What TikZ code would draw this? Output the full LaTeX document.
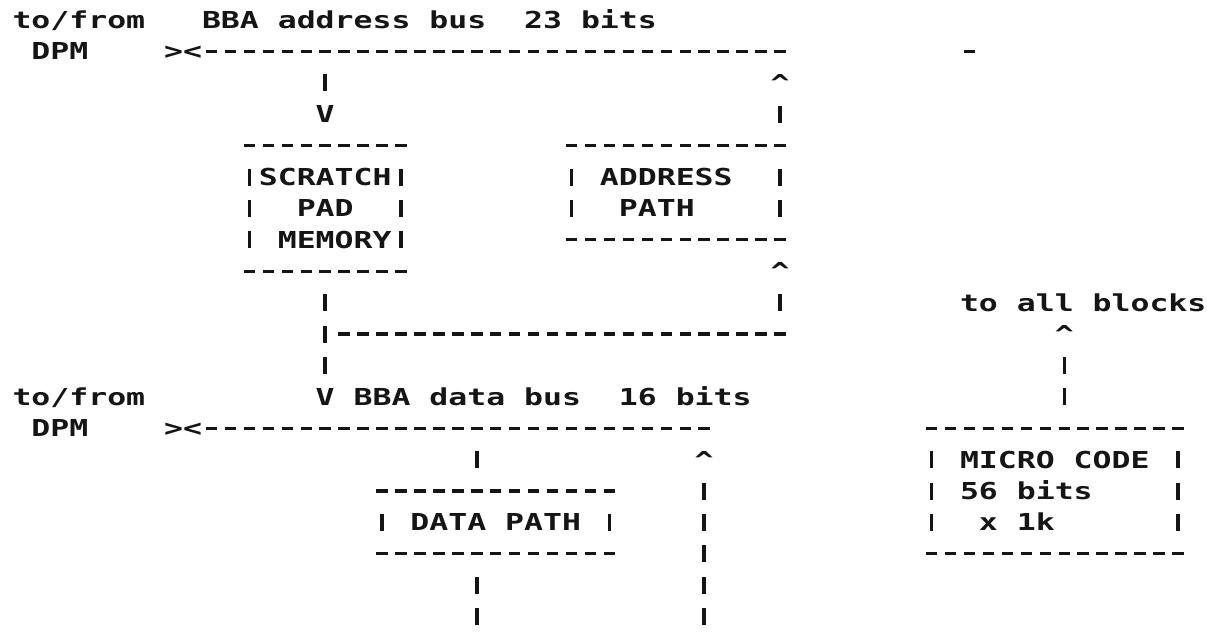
\documentclass[tikz,border=0pt]{standalone}
\usepackage{fontspec}
\newfontfamily\monofnt{DejaVu Sans Mono}[UprightFont=* Bold, FakeStretch=1.349]
\definecolor{ink}{HTML}{151515}
\newcommand\Vrun[4]{% name, col, first row, last row
  \coordinate (#1-t) at (#2,#3-0.2707);
  \coordinate (#1-b) at (#2,#4+0.2707);
  \draw[vb] (#1-t) -- (#1-b);}
\newcommand\Hrun[4]{% name, row, first col, last col
  \coordinate (#1-w) at (#3-0.3025,#2);
  \coordinate (#1-e) at (#4+0.3025,#2);
  \draw[hb] (#1-w) -- (#1-e);}
\tikzset{
  txt/.style={font={\monofnt\fontsize{17.5pt}{20pt}\selectfont\frenchspacing
      \fontdimen2\font=\fontcharwd\font`0\relax\fontdimen3\font=0pt\fontdimen4\font=0pt},
    inner sep=0pt, outer sep=0pt, anchor=base west,
    xshift=-7.106pt, yshift=-6.38pt, text=ink},
  hb/.style={draw=ink, line width=2.3pt, dash pattern=on 8.6pt off 5.6125pt},
  vb/.style={draw=ink, line width=2.6pt, dash pattern=on 12.75pt off 10.8pt},
}
\begin{document}
\begin{tikzpicture}[x=14.2125pt, y=-23.55pt]
\fill[white] (-1.161,-0.637) rectangle (62.533,19.841);
\useasboundingbox (-1.161,-0.637) rectangle (62.533,19.841);

% ---- address bus (top)
\node[txt] (tf1) at (0,0) {to/from};
\node[txt] (abuslbl) at (10,0) {BBA address bus\ \ 23 bits};
\node[txt] (dpm1) at (1,1) {DPM};
\node[txt] (xx1) at (8,1) {><};
\Hrun{abus}{1}{10}{40}
\Hrun{stray}{1}{50}{50}

% address bus -> scratch pad
\Vrun{a1}{16}{2}{2}
\node[txt] (dn1) at (16,3) {V};
% address path -> address bus
\node[txt] (up1) at (40,2) {\textasciicircum};
\Vrun{b1}{40}{3}{3}

% ---- scratch pad memory box
\Hrun{spt}{4}{12}{20}
\Vrun{spl}{12}{5}{7}
\Vrun{spr}{20}{5}{7}
\node[txt] (sp1) at (13,5) {SCRATCH};
\node[txt] (sp2) at (15,6) {PAD};
\node[txt] (sp3) at (14,7) {MEMORY};
\Hrun{spb}{8}{12}{20}

% ---- address path box
\Hrun{apt}{4}{29}{40}
\Vrun{apl}{29}{5}{6}
\Vrun{apr}{40}{5}{6}
\node[txt] (ap1) at (31,5) {ADDRESS};
\node[txt] (ap2) at (32,6) {PATH};
\Hrun{apb}{7}{29}{40}

% ---- links to data bus
\node[txt] (up2) at (40,8) {\textasciicircum};
\Vrun{b2}{40}{9}{9}
\Vrun{a2}{16}{9}{11}
\Hrun{link}{10}{17}{40}
\node[txt] (dn2) at (16,12) {V};

% ---- micro code output
\node[txt] (allblk) at (50,9) {to all blocks};
\node[txt] (up3) at (55,10) {\textasciicircum};
\Vrun{f1}{55}{11}{12}

% ---- data bus
\node[txt] (tf2) at (0,12) {to/from};
\node[txt] (dbuslbl) at (18,12) {BBA data bus\ \ 16 bits};
\node[txt] (dpm2) at (1,13) {DPM};
\node[txt] (xx2) at (8,13) {><};
\Hrun{dbus}{13}{10}{36}

% data bus <-> data path
\Vrun{c1}{24}{14}{14}
\node[txt] (up4) at (36,14) {\textasciicircum};
\Vrun{e1}{36}{15}{19}

% ---- data path box
\Hrun{dpt}{15}{19}{31}
\Vrun{dpl}{19}{16}{16}
\Vrun{dpr}{31}{16}{16}
\node[txt] (dp1) at (21,16) {DATA PATH};
\Hrun{dpb}{17}{19}{31}
\Vrun{c2}{24}{18}{19}

% ---- micro code box
\Hrun{mct}{13}{48}{61}
\Vrun{mcl}{48}{14}{16}
\Vrun{mcr}{61}{14}{16}
\node[txt] (mc1) at (50,14) {MICRO CODE};
\node[txt] (mc2) at (50,15) {56 bits};
\node[txt] (mc3) at (51,16) {x 1k};
\Hrun{mcb}{17}{48}{61}
\end{tikzpicture}
\end{document}
